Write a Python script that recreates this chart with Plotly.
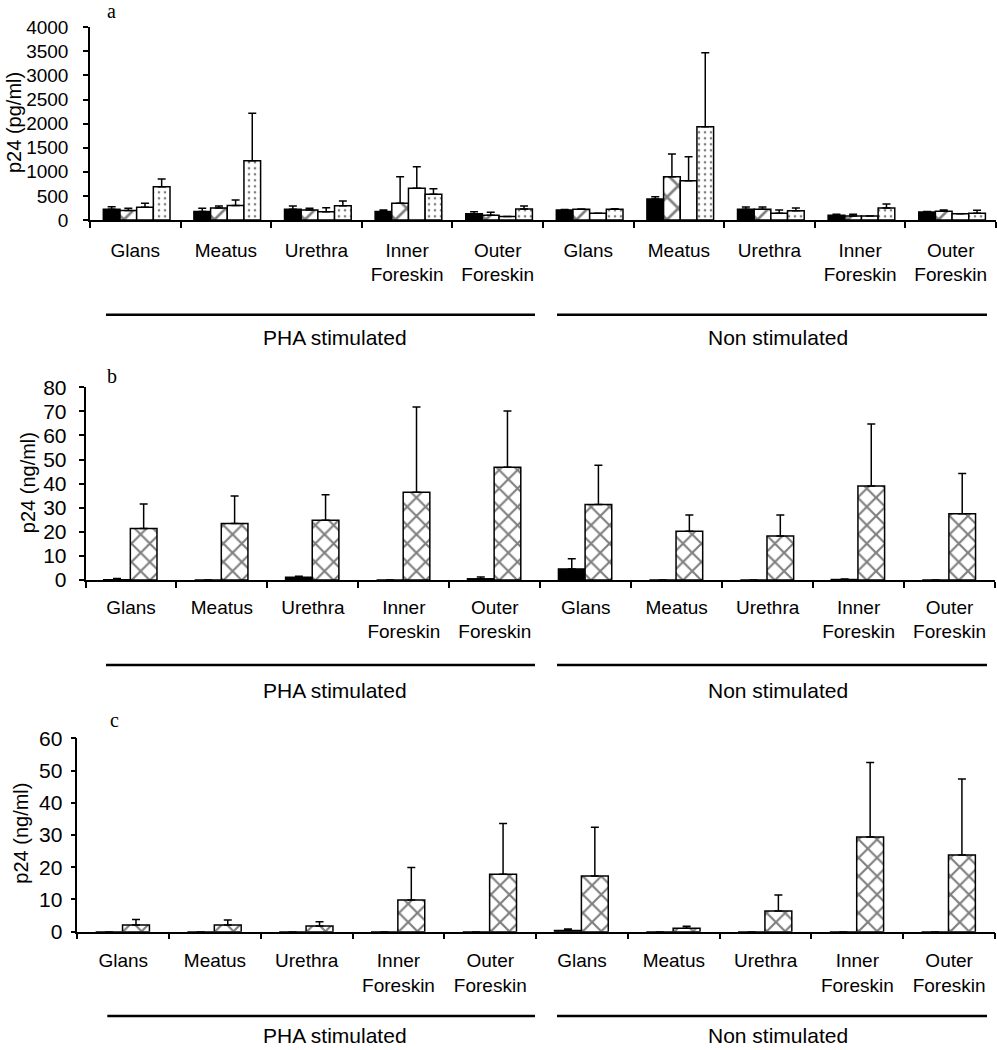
import plotly.graph_objects as go

# ---------------- data ----------------
sites = ["Glans", "Meatus", "Urethra", "Inner<br>Foreskin", "Outer<br>Foreskin"]
conditions = ["PHA stimulated", "Non stimulated"]
cat_ids = [f"{c}|{s}" for c in conditions for s in sites]
cat_labels = sites + sites

# Panel a, p24 (pg/ml): four series (solid, cross-hatched, open, dotted)
a_black = [225, 175, 225, 175, 130, 210, 436, 221, 97, 166]
a_black_err = [52, 67, 65, 33, 40, 8, 48, 49, 21, 9]
a_cross = [195, 250, 210, 346, 100, 221, 900, 221, 83, 180]
a_cross_err = [47, 40, 32, 554, 60, 8, 470, 49, 35, 28]
a_white = [265, 300, 170, 657, 72, 138, 817, 138, 83, 131]
a_white_err = [81, 115, 85, 450, None, None, 498, 70, None, None]
a_dot = [692, 1232, 297, 533, 228, 221, 1938, 194, 249, 138]
a_dot_err = [159, 982, 97, 117, 62, 10, 1536, 55, 83, 62]

# Panel b, p24 (ng/ml): two series
b_black = [0.1, 0, 1.1, 0, 0.5, 4.6, 0, 0, 0.2, 0]
b_black_err = [0.5, None, 0.5, None, 0.7, 4.2, None, None, 0.2, None]
b_cross = [21.4, 23.5, 24.8, 36.4, 46.8, 31.3, 20.2, 18.3, 39.0, 27.5]
b_cross_err = [10.2, 11.4, 10.6, 35.4, 23.4, 16.3, 6.8, 8.7, 25.8, 16.7]

# Panel c, p24 (ng/ml): two series
c_black = [0, 0, 0, 0, 0, 0.4, 0, 0, 0, 0]
c_black_err = [None, None, None, None, None, 0.4, None, None, None, None]
c_cross = [2.1, 2.1, 1.8, 9.8, 17.8, 17.3, 1.1, 6.4, 29.4, 23.8]
c_cross_err = [1.7, 1.5, 1.3, 10.1, 15.8, 15.1, 0.6, 5.0, 23.1, 23.6]

# ---------------- figure ----------------
W, H = 997, 1050
fig = go.Figure()

LINE = dict(color="black", width=1.5)

def style(kind, psize):
    if kind == "black":
        return dict(color="black", line=LINE)
    if kind == "white":
        return dict(color="white", line=LINE)
    if kind == "cross":
        return dict(color="white", line=LINE,
                    pattern=dict(shape="x", size=psize, solidity=0.3,
                                 fgcolor="black", bgcolor="white"))
    if kind == "dot":
        return dict(color="white", line=LINE,
                    pattern=dict(shape=".", size=6, solidity=0.15,
                                 fgcolor="black", bgcolor="white"))

def add_bar(vals, errs, kind, xa, ya, width, offset, psize):
    fig.add_trace(go.Bar(
        x=cat_ids, y=vals, xaxis=xa, yaxis=ya,
        width=width, offset=offset,
        marker=style(kind, psize),
        error_y=dict(type="data", symmetric=False, array=errs,
                     arrayminus=[0] * len(vals), color="black",
                     thickness=1.5, width=4),
        showlegend=False, hoverinfo="skip"))

wa = 0.184
for k, (v, e, kind) in enumerate([(a_black, a_black_err, "black"),
                                   (a_cross, a_cross_err, "cross"),
                                   (a_white, a_white_err, "white"),
                                   (a_dot, a_dot_err, "dot")]):
    add_bar(v, e, kind, "x", "y", wa, -0.353 + k * wa, 16)

wb = 0.293
add_bar(b_black, b_black_err, "black", "x2", "y2", wb, -0.30, 13)
add_bar(b_cross, b_cross_err, "cross", "x2", "y2", wb, -0.007, 13)
add_bar(c_black, c_black_err, "black", "x3", "y3", wb, -0.30, 13)
add_bar(c_cross, c_cross_err, "cross", "x3", "y3", wb, -0.007, 13)

FONT = "Liberation Sans, Arial, sans-serif"
SERIF = "Liberation Serif, Times New Roman, serif"

def xaxis(dom, anchor, standoff):
    return dict(domain=dom, anchor=anchor, type="category",
                categoryorder="array", categoryarray=cat_ids,
                tickmode="array", tickvals=cat_ids, ticktext=cat_labels,
                tickson="boundaries", ticks="outside", ticklen=6,
                tickwidth=1.5, tickcolor="black",
                showline=True, linecolor="black", linewidth=1.5,
                showgrid=False, zeroline=False, range=[-0.5, 9.5],
                tickfont=dict(family=FONT, size=19, color="black"),
                ticklabelstandoff=standoff, automargin=False, fixedrange=True)

def yaxis(dom, anchor, rng, dtick, fsize, standoff):
    return dict(domain=dom, anchor=anchor, range=rng, dtick=dtick,
                tick0=0, ticks="outside", ticklen=5, tickwidth=1.5,
                tickcolor="black", showline=True, linecolor="black",
                linewidth=1.5, showgrid=False, zeroline=False,
                tickfont=dict(family=FONT, size=fsize, color="black"),
                ticklabelstandoff=standoff, automargin=False,
                fixedrange=True)

def py(px):
    return 1 - px / H

def pxx(px):
    return px / W

fig.update_layout(
    width=W, height=H, margin=dict(l=0, r=0, t=0, b=0),
    paper_bgcolor="white", plot_bgcolor="white", barmode="overlay",
    xaxis=xaxis([pxx(90), pxx(996)], "y", 12),
    yaxis=yaxis([py(220), py(27.3)], "x", [0, 4000], 500, 19, 11),
    xaxis2=xaxis([pxx(85.5), pxx(995)], "y2", 9),
    yaxis2=yaxis([py(580), py(387.3)], "x2", [0, 80], 10, 21, 8),
    xaxis3=xaxis([pxx(77.3), pxx(995)], "y3", 11),
    yaxis3=yaxis([py(931.7), py(738.3)], "x3", [0, 60], 10, 21, 4),
)

annotations = []
shapes = []

# panel letters and y titles
for letter, lx, ly in [("a", 111, 11), ("b", 111.5, 376), ("c", 114.5, 719.6)]:
    annotations.append(dict(text=letter, x=pxx(lx), y=py(ly), xref="paper",
                            yref="paper", showarrow=False, xanchor="center",
                            yanchor="middle",
                            font=dict(family=SERIF, size=20, color="black")))
for title, tx, ty in [("p24 (pg/ml)", 13.5, 122.5), ("p24 (ng/ml)", 27.5, 482.7),
                      ("p24 (ng/ml)", 20.7, 833)]:
    annotations.append(dict(text=title, x=pxx(tx), y=py(ty), xref="paper",
                            yref="paper", showarrow=False, textangle=-90,
                            xanchor="center", yanchor="middle",
                            font=dict(family=FONT, size=20, color="black")))

# group bars + group labels for each panel
panels = [  # (line y, text y, PHA line start)
    (314.7, 337.5, 106),
    (665, 690, 106),
    (1016, 1035, 107.3),
]
for ly, ty, x0 in panels:
    shapes.append(dict(type="line", xref="paper", yref="paper",
                       x0=pxx(x0), x1=pxx(535), y0=py(ly), y1=py(ly),
                       line=dict(color="black", width=2.5)))
    shapes.append(dict(type="line", xref="paper", yref="paper",
                       x0=pxx(557), x1=pxx(987), y0=py(ly), y1=py(ly),
                       line=dict(color="black", width=2.5)))
    for txt, cx in zip(conditions, [335, 777.5]):
        annotations.append(dict(text=txt, x=pxx(cx), y=py(ty), xref="paper",
                                yref="paper", showarrow=False,
                                xanchor="center", yanchor="middle",
                                font=dict(family=FONT, size=21, color="black")))

fig.update_layout(annotations=annotations, shapes=shapes)
fig.write_html("out.html",
               config={"displayModeBar": False},
               post_script="document.body.style.margin='0px';"
                           "document.body.style.overflow='hidden';")
